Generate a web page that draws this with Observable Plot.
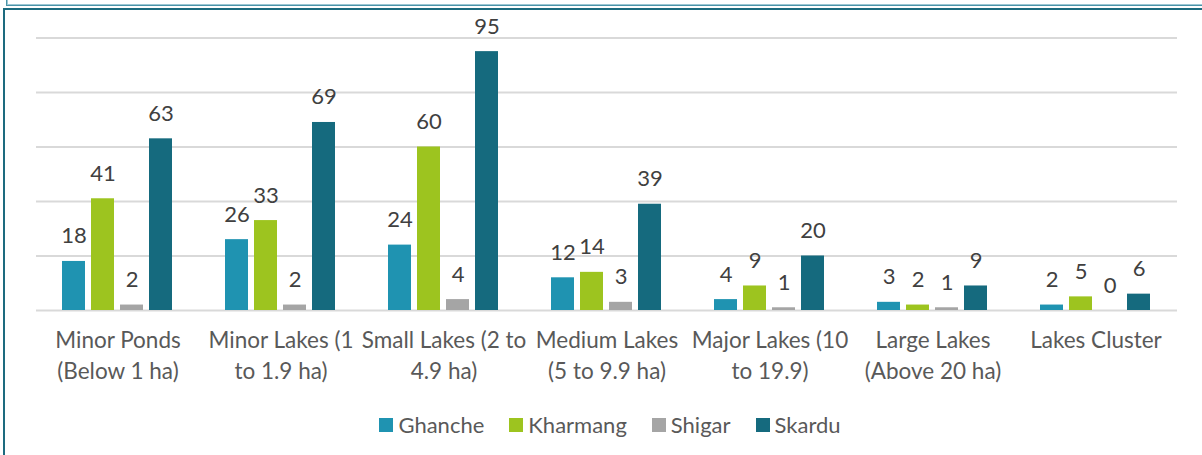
<!DOCTYPE html>
<html>
<head>
<meta charset="utf-8">
<script src="https://cdn.jsdelivr.net/npm/d3@7"></script>
<script src="https://cdn.jsdelivr.net/npm/@observablehq/plot@0.6"></script>
<style>
  html, body { margin: 0; padding: 0; background: #fff; }
  body { width: 1202px; height: 455px; position: relative; overflow: hidden; font-family: Lato, "Open Sans", sans-serif; }
  #topbox { position: absolute; left: 6px; top: -20px; width: 1300px; height: 24px; border: 1px solid #4a93a8; box-shadow: inset 0 0 0 1px #9cc7d4; }
  #frame { position: absolute; left: 3px; top: 8px; width: 1300px; height: 600px; border: 2px solid #1d6b7f; box-sizing: border-box; }
  #chart { position: absolute; left: 0; top: 0; }
  #legend { position: absolute; left: 0; width: 1220px; top: 411px; display: flex; justify-content: center; gap: 25px; font-size: 22px; color: #595959; }
  .item { display: flex; align-items: center; }
  .sw { width: 14px; height: 14px; margin-right: 5px; }
</style>
</head>
<body>
<div id="topbox"></div>
<div id="frame"></div>
<div id="chart"></div>
<div id="legend"></div>
<script>
const categories = [
  "Minor Ponds\n(Below 1 ha)",
  "Minor Lakes (1\nto 1.9 ha)",
  "Small Lakes (2 to\n4.9 ha)",
  "Medium Lakes\n(5 to 9.9 ha)",
  "Major Lakes (10\nto 19.9)",
  "Large Lakes\n(Above 20 ha)",
  "Lakes Cluster"
];
const seriesNames = ["Ghanche", "Kharmang", "Shigar", "Skardu"];
const colors = ["#1f93b1", "#9dc41f", "#a5a5a5", "#156a7e"];
const ghanche  = [18, 26, 24, 12, 4, 3, 2];
const kharmang = [41, 33, 60, 14, 9, 2, 5];
const shigar   = [2, 2, 4, 3, 1, 1, 0];
const skardu   = [63, 69, 95, 39, 20, 9, 6];
const yTicks = [0, 20, 40, 60, 80, 100];

const seriesValues = [ghanche, kharmang, shigar, skardu];
const data = [];
categories.forEach((c, i) => {
  seriesNames.forEach((s, j) => data.push({cat: c, series: s, value: seriesValues[j][i]}));
});

const plot = Plot.plot({
  width: 1202,
  height: 400,
  marginTop: 37.5,
  marginBottom: 90,
  marginLeft: 33,
  marginRight: 23,
  style: {fontFamily: "Lato, 'Open Sans', sans-serif", background: "transparent"},
  fx: {domain: categories, padding: 0, label: null},
  x: {domain: seriesNames, paddingInner: 0.2, paddingOuter: 0.875, axis: null},
  y: {domain: [0, 100], axis: null},
  color: {domain: seriesNames, range: colors},
  marks: [
    Plot.ruleY(yTicks, {stroke: "#d9d9d9", strokeWidth: 1.8}),
    Plot.barY(data, {fx: "cat", x: "series", y: "value", fill: "series"}),
    Plot.text(data, {fx: "cat", x: "series", y: "value", text: d => String(d.value), dy: -18, lineAnchor: "bottom", fill: "#404040", fontSize: 22}),
    Plot.axisFx({anchor: "bottom", tickSize: 0, tickPadding: 15, fontSize: 22.5, lineHeight: 1.38, fill: "#595959", label: null, textOverflow: null, lineWidth: 100})
  ]
});
document.getElementById("chart").appendChild(plot);

const legend = document.getElementById("legend");
seriesNames.forEach((s, j) => {
  const it = document.createElement("div");
  it.className = "item";
  const sw = document.createElement("div");
  sw.className = "sw";
  sw.style.background = colors[j];
  const t = document.createElement("span");
  t.textContent = s;
  it.appendChild(sw);
  it.appendChild(t);
  legend.appendChild(it);
});
</script>
</body>
</html>
